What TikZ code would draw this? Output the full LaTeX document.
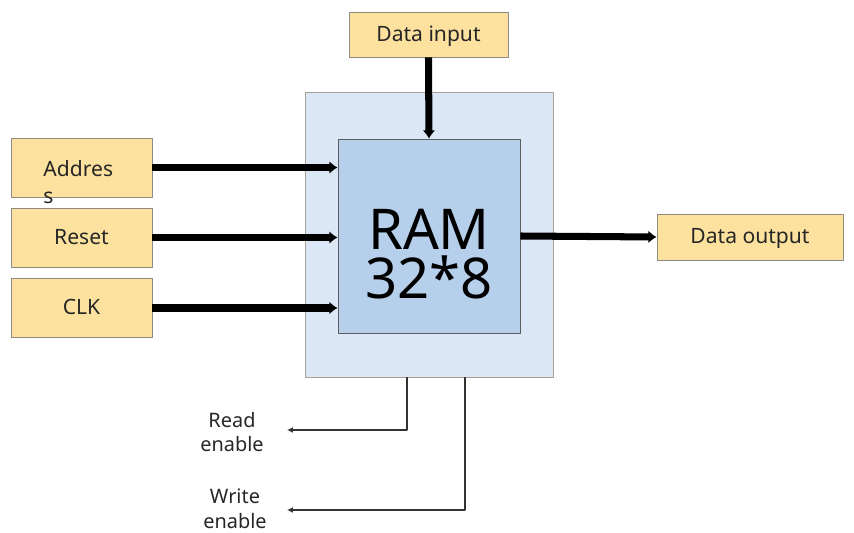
\documentclass[tikz,border=0pt]{standalone}
\usepackage{fontspec}
\setmainfont{Noto Sans}
\usetikzlibrary{arrows.meta}
\definecolor{padfill}{HTML}{FCE29E}
\definecolor{paddraw}{HTML}{8E8A80}
\definecolor{outerfill}{HTML}{DCE7F5}
\definecolor{ramfill}{HTML}{B6CFEA}
\definecolor{wire}{HTML}{333333}
\tikzset{
  padbox/.style={draw=paddraw,fill=padfill,line width=0.8pt,inner sep=0pt,text=black!85,
    text height=1.15em,text depth=0pt,font=\fontsize{18}{21}\selectfont},
  bus/.style={line width=6pt,-{Latex[length=7pt,width=11pt]}},
  ctl/.style={draw=wire,line width=1.6pt,-{Latex[length=5pt,width=5pt]}},
  lbl/.style={align=center,inner sep=0pt,font=\fontsize{17}{21}\selectfont,text=black!85}
}
\begin{document}
\begin{tikzpicture}[x=0.03cm,y=-0.03cm,line join=round]
\useasboundingbox (0,0) rectangle (854,533);
% RAM block
\node[draw=paddraw!80,fill=outerfill,line width=0.8pt,minimum width=7.44cm,minimum height=8.55cm] (outer) at (429,234.5) {};
\node[draw=wire!80,fill=ramfill,line width=0.8pt,minimum width=5.46cm,minimum height=5.82cm] (ram) at (429,236) {};
\node[align=center,inner sep=0pt,font=\fontsize{48}{42}\selectfont] (ramtxt) at (429,254) {RAM\\32*8};
% inputs and output
\node[padbox,minimum width=4.77cm,minimum height=1.35cm] (datain) at (428.5,34.5) {Data input};
\foreach \n/\t/\y in {addr/{}/167.5,reset/Reset/237.5,clk/CLK/308}
  \node[padbox,minimum width=4.23cm,minimum height=1.77cm] (\n) at (81.5,\y) {\t};
\node[padbox,anchor=north west,align=left,fill=none,draw=none,text height=,text depth=] (addrtxt) at (43,160) {Addres\\[2pt]s};
\node[padbox,minimum width=5.58cm,minimum height=1.38cm] (dataout) at (750,237) {Data output};
\foreach \n in {addr,reset,clk}
  \draw[bus] (\n.east) -- (\n.east -| ram.west);
\draw[bus] (datain.south) -- (ram.north);
\draw[bus] (ram.east) -- (dataout.west);
% enables
\coordinate (rdtap) at (407,377);
\coordinate (rdend) at (287,430);
\coordinate (wrtap) at (465,377);
\coordinate (wrend) at (287,510);
\draw[ctl] (rdtap) |- (rdend);
\draw[ctl] (wrtap) |- (wrend);
\node[lbl] (readtxt) at (232,432) {Read\\enable};
\node[lbl] (writetxt) at (235,509) {Write\\enable};
\end{tikzpicture}
\end{document}
